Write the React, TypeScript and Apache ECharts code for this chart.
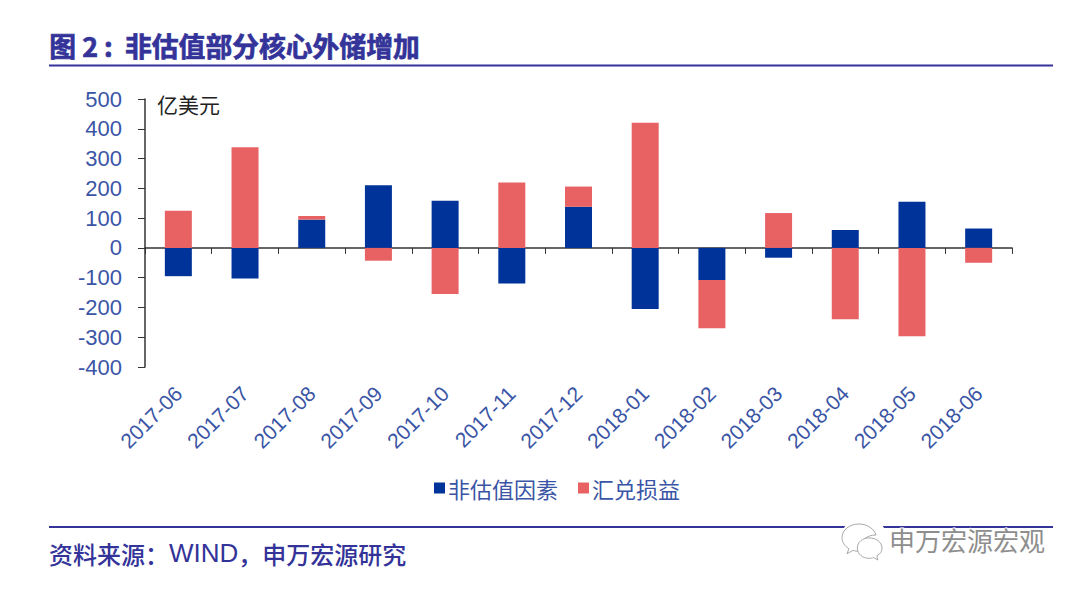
import React, { useEffect, useRef } from "react";
import * as echarts from "echarts";

const categories = ["2017-06","2017-07","2017-08","2017-09","2017-10","2017-11","2017-12","2018-01","2018-02","2018-03","2018-04","2018-05","2018-06"];
const nonValuation = [-95,-103,95,210,158,-120,138,-205,-108,-33,60,155,65];
const fxGain = [125,338,12,-43,-155,220,68,420,-162,117,-240,-297,-50];
const seriesNames = ["非估值因素","汇兑损益"];
const titleText = "图 2 :  非估值部分核心外储增加";
const sourceText = "{a|资料来源：}{b|WIND}{a|，申万宏源研究}";
const unitText = "亿美元";
const markText = "申万宏源宏观";

const CJK = '"Noto Sans CJK SC","Liberation Sans",sans-serif';
const LAT = '"Liberation Sans",Arial,sans-serif';
const INDIGO = "#333399";
const TICK = "#3a55a5";

const bubble1 = "M20 0C9 0 0 7 0 16c0 5 3 10 8 13l-2 6 7-4c2 1 5 1 7 1 1 0 2 0 3 0-1-1-1-3-1-5 0-8 8-14 17-14h1C38 6 30 0 20 0Z";
const bubble2 = "M25 14c-8 0-14 5-14 12s6 12 14 12c2 0 3 0 5-1l5 3-1-5c4-2 6-5 6-9 0-7-7-12-15-12Z";
echarts.graphic.registerShape("wxA", echarts.graphic.extendPath(bubble1, {}) as any);
echarts.graphic.registerShape("wxB", echarts.graphic.extendPath(bubble2, {}) as any);

export default function App() {
  const ref = useRef<HTMLDivElement>(null);
  useEffect(() => {
    const chart = echarts.init(ref.current!, undefined, { renderer: "svg" });
    chart.setOption({
      animation: false,
      backgroundColor: "#ffffff",
      grid: { left: 145, right: 68, top: 99, bottom: 222, containLabel: false },
      legend: {
        left: 429, top: 472, itemWidth: 11, itemHeight: 11, itemGap: 20, icon: "rect",
        textStyle: { fontFamily: CJK, fontSize: 22, color: TICK, padding: [0, 0, 0, -2] },
        data: seriesNames,
      },
      xAxis: [
        {
          type: "category", data: categories, position: "bottom",
          axisLine: { show: false, onZero: false }, axisTick: { show: false },
          axisLabel: { rotate: 45, interval: 0, fontFamily: LAT, fontSize: 21, color: TICK, margin: 23 },
        },
        {
          type: "category", data: categories, position: "bottom",
          axisLine: { show: true, onZero: true, lineStyle: { color: "#333333", width: 1.5 } },
          axisTick: { show: true, length: 6, alignWithLabel: false, lineStyle: { color: "#333333", width: 1 } },
          axisLabel: { show: false },
        },
      ],
      yAxis: {
        type: "value", min: -400, max: 500, interval: 100,
        axisLine: { show: true, onZero: false, lineStyle: { color: "#333333", width: 1.5 } },
        axisTick: { show: true, length: 7, lineStyle: { color: "#333333", width: 1 } },
        axisLabel: { fontFamily: LAT, fontSize: 22, color: TICK, margin: 23 },
        splitLine: { show: false },
      },
      series: [
        { name: seriesNames[0], type: "bar", stack: "t", data: nonValuation, barWidth: 27, itemStyle: { color: "#003399" } },
        { name: seriesNames[1], type: "bar", stack: "t", data: fxGain, barWidth: 27, itemStyle: { color: "#e86264" } },
      ],
      graphic: [
        { type: "text", left: 49, top: 32, style: { text: titleText, fontFamily: CJK, fontWeight: "bold", fontSize: 26.8, fill: INDIGO, stroke: INDIGO, lineWidth: 0.7 } },
        { type: "rect", shape: { x: 49, y: 64.5, width: 1004, height: 2 }, style: { fill: INDIGO } },
        { type: "text", left: 157, top: 93, style: { text: unitText, fontFamily: CJK, fontSize: 21, fill: "#222222" } },
        { type: "rect", shape: { x: 49, y: 526, width: 1004, height: 2 }, style: { fill: INDIGO } },
        { type: "text", left: 49, top: 540, style: { text: sourceText, fill: INDIGO, rich: {
          a: { fontFamily: CJK, fontSize: 24, fontWeight: 500, fill: INDIGO, color: INDIGO },
          b: { fontFamily: LAT, fontSize: 26, fill: INDIGO, color: INDIGO },
        } } },
        { type: "circle", shape: { cx: 864, cy: 541, r: 24 }, style: { fill: "#ffffff" } },
        { type: "wxA", x: 842, y: 524, scaleX: 0.85, scaleY: 0.85, style: { fill: "#ffffff", stroke: "#9a9a9a", lineWidth: 1 } },
        { type: "wxB", x: 848, y: 526, scaleX: 0.85, scaleY: 0.85, style: { fill: "#ffffff", stroke: "#9a9a9a", lineWidth: 1 } },
        { type: "text", left: 888, top: 525, style: { text: markText, fontFamily: CJK, fontSize: 26, fill: "#8e8e8e", stroke: "#ffffff", lineWidth: 2 } },
      ],
    });
    return () => chart.dispose();
  }, []);
  return <div ref={ref} style={{ position: "fixed", left: 0, top: 0, width: 1080, height: 589 }} />;
}
